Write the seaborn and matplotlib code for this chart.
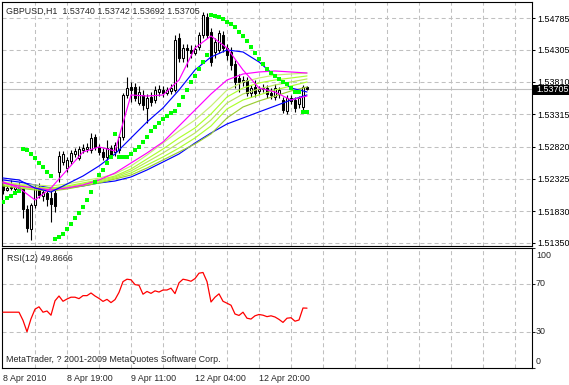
import numpy as np
import pandas as pd
import matplotlib
matplotlib.use("Agg")
import matplotlib.pyplot as plt
import matplotlib.patches as mpatches
import matplotlib.transforms as mtrans
import seaborn as sns

# ---------------- data ----------------
symbol = "GBPUSD,H1"
opens = [1.52233, 1.52157, 1.52187, 1.52172, 1.52218, 1.52172, 1.51866, 1.51560, 1.51927, 1.52202,
         1.52065, 1.52111, 1.52034, 1.52111, 1.52432, 1.52585, 1.52493, 1.52600, 1.52708, 1.52646,
         1.52769, 1.52784, 1.52769, 1.52968, 1.52815, 1.52738, 1.52662, 1.52799, 1.52738, 1.52769,
         1.52968, 1.53611, 1.53733, 1.53733, 1.53488, 1.53611, 1.53412, 1.53580, 1.53534, 1.53657,
         1.53687, 1.53641, 1.53672, 1.53687, 1.54483, 1.54177, 1.54330, 1.54300, 1.54254, 1.54346,
         1.54529, 1.54805, 1.54575, 1.54269, 1.54300, 1.54529, 1.54330, 1.54269, 1.54085, 1.53871,
         1.53810, 1.53840, 1.53641, 1.53733, 1.53672, 1.53703, 1.53718, 1.53641, 1.53580, 1.53626,
         1.53534, 1.53366, 1.53564, 1.53534, 1.53473, 1.53427, 1.53740]
highs = [1.52294, 1.52264, 1.52310, 1.52248, 1.52279, 1.52218, 1.51927, 1.51958, 1.52248, 1.52264,
         1.52187, 1.52157, 1.52157, 1.52157, 1.52754, 1.52754, 1.52662, 1.52769, 1.52799, 1.52830,
         1.52861, 1.52876, 1.53029, 1.53014, 1.52861, 1.52799, 1.52922, 1.52845, 1.52891, 1.53014,
         1.53641, 1.53886, 1.53810, 1.53795, 1.53749, 1.53687, 1.53626, 1.53657, 1.53749, 1.53764,
         1.53749, 1.53733, 1.53779, 1.54529, 1.54560, 1.54391, 1.54391, 1.54376, 1.54376, 1.54575,
         1.54881, 1.54866, 1.54636, 1.54483, 1.54606, 1.54590, 1.54391, 1.54346, 1.54147, 1.53932,
         1.53902, 1.53886, 1.53764, 1.53840, 1.53749, 1.53779, 1.53764, 1.53718, 1.53779, 1.53733,
         1.53580, 1.53611, 1.53611, 1.53580, 1.53595, 1.53764, 1.53742]
lows = [1.52095, 1.52141, 1.52157, 1.52126, 1.52141, 1.51728, 1.51514, 1.51391, 1.51881, 1.52034,
        1.51988, 1.51912, 1.51667, 1.51820, 1.52279, 1.52539, 1.52432, 1.52555, 1.52662, 1.52616,
        1.52723, 1.52738, 1.52723, 1.52769, 1.52692, 1.52616, 1.52616, 1.52646, 1.52677, 1.52723,
        1.52922, 1.53564, 1.53504, 1.53519, 1.53458, 1.53381, 1.53182, 1.53442, 1.53488, 1.53595,
        1.53580, 1.53611, 1.53626, 1.53657, 1.54116, 1.54116, 1.54039, 1.54177, 1.54223, 1.54300,
        1.54483, 1.54483, 1.54055, 1.54177, 1.54254, 1.54269, 1.54147, 1.53994, 1.53718, 1.53657,
        1.53749, 1.53595, 1.53580, 1.53580, 1.53626, 1.53657, 1.53564, 1.53549, 1.53534, 1.53564,
        1.53335, 1.53320, 1.53473, 1.53351, 1.53412, 1.53381, 1.53692]
closes = [1.52157, 1.52187, 1.52202, 1.52218, 1.52172, 1.51866, 1.51575, 1.51927, 1.52187, 1.52080,
          1.52126, 1.52019, 1.51942, 1.51912, 1.52677, 1.52708, 1.52616, 1.52723, 1.52754, 1.52784,
          1.52799, 1.52815, 1.52953, 1.52815, 1.52738, 1.52662, 1.52799, 1.52692, 1.52845, 1.52968,
          1.53611, 1.53718, 1.53687, 1.53564, 1.53657, 1.53458, 1.53564, 1.53504, 1.53687, 1.53703,
          1.53641, 1.53687, 1.53718, 1.54453, 1.54177, 1.54330, 1.54300, 1.54254, 1.54315, 1.54529,
          1.54835, 1.54529, 1.54116, 1.54422, 1.54560, 1.54330, 1.54223, 1.54070, 1.53810, 1.53810,
          1.53840, 1.53641, 1.53718, 1.53641, 1.53703, 1.53718, 1.53626, 1.53611, 1.53718, 1.53687,
          1.53381, 1.53564, 1.53519, 1.53412, 1.53564, 1.53733, 1.53705]

sar = [1.51973, 1.52034, 1.52065, 1.52111, 1.52141, 1.52784, 1.52769, 1.52708, 1.52646, 1.52570,
       1.52509, 1.52432, 1.52371, 1.51407, 1.51437, 1.51483, 1.51560, 1.51636, 1.51728, 1.51805,
       1.51896, 1.52004, 1.52126, 1.52279, 1.52386, 1.52463, 1.52570, 1.52662, 1.53014, 1.52662,
       1.52662, 1.52662, 1.52708, 1.52769, 1.52815, 1.52891, 1.52968, 1.53060, 1.53121, 1.53182,
       1.53243, 1.53289, 1.53335, 1.53366, 1.53458, 1.53580, 1.53687, 1.53810, 1.53902, 1.54009,
       1.54116, 1.54223, 1.54835, 1.54820, 1.54805, 1.54774, 1.54728, 1.54698, 1.54652, 1.54575,
       1.54514, 1.54437, 1.54346, 1.54254, 1.54162, 1.54085, 1.54009, 1.53947, 1.53902, 1.53856,
       1.53810, 1.53779, 1.53718, 1.53657, 1.53657, 1.53351, 1.53351]

rsi = [46.5, 46.5, 46.5, 46.5, 46.5, 39.7, 30.2, 41.0, 49.0, 51.0,
       46.5, 47.5, 44.0, 56.0, 60.0, 55.6, 57.5, 59.0, 59.0, 57.8,
       60.3, 60.3, 62.5, 60.0, 58.0, 55.5, 57.2, 54.5, 57.0, 63.0,
       72.0, 74.0, 73.5, 69.5, 68.9, 61.5, 63.8, 62.2, 64.3, 63.3,
       65.0, 65.0, 66.5, 62.0, 71.0, 74.0, 73.3, 72.3, 74.5, 79.0,
       79.6, 72.0, 55.0, 59.0, 61.8, 55.6, 54.0, 52.3, 45.0, 43.8,
       46.5, 41.5, 40.8, 43.5, 44.6, 44.0, 42.8, 43.5, 42.5, 40.5,
       38.0, 41.5, 41.9, 39.0, 40.0, 50.0, 49.8666]

ma_bars = [0, 4, 8, 12, 16, 20, 24, 28, 32, 36, 40, 44, 48, 52, 56, 60, 64, 68, 72, 76]
ma_fast_magenta = [1.52279, 1.52187, 1.52004, 1.52187, 1.52463, 1.52738, 1.52815, 1.52754, 1.53611, 1.53595,
                   1.53611, 1.53840, 1.54330, 1.54514, 1.54330, 1.53994, 1.53718, 1.53657, 1.53534, 1.53595]
ma_mid_blue = [1.52340, 1.52310, 1.52187, 1.52126, 1.52248, 1.52371, 1.52524, 1.52708, 1.52953, 1.53198,
               1.53412, 1.53687, 1.53994, 1.54192, 1.54300, 1.54269, 1.54116, 1.53902, 1.53718, 1.53657]
ma_slow_magenta = [1.52264, 1.52218, 1.52187, 1.52157, 1.52187, 1.52233, 1.52310, 1.52417, 1.52570, 1.52723,
                   1.52891, 1.53136, 1.53381, 1.53626, 1.53840, 1.53932, 1.53963, 1.53978, 1.53963, 1.53947]
ma_slow_blue = [1.52310, 1.52279, 1.52233, 1.52187, 1.52187, 1.52218, 1.52264, 1.52294, 1.52356, 1.52463,
                1.52585, 1.52708, 1.52876, 1.53029, 1.53167, 1.53259, 1.53351, 1.53442, 1.53534, 1.53611]
ma_green_1 = [1.52279, 1.52248, 1.52233, 1.52218, 1.52248, 1.52294, 1.52340, 1.52402, 1.52524, 1.52692,
              1.52876, 1.53060, 1.53228, 1.53442, 1.53687, 1.53810, 1.53871, 1.53917, 1.53932, 1.53947]
ma_green_2 = [1.52264, 1.52233, 1.52202, 1.52187, 1.52218, 1.52264, 1.52310, 1.52371, 1.52478, 1.52631,
              1.52784, 1.52953, 1.53106, 1.53320, 1.53580, 1.53718, 1.53795, 1.53840, 1.53871, 1.53902]
ma_green_3 = [1.52248, 1.52218, 1.52187, 1.52172, 1.52202, 1.52248, 1.52294, 1.52356, 1.52448, 1.52585,
              1.52723, 1.52876, 1.53029, 1.53228, 1.53488, 1.53626, 1.53703, 1.53764, 1.53810, 1.53856]
ma_green_4 = [1.52233, 1.52202, 1.52172, 1.52157, 1.52187, 1.52233, 1.52279, 1.52340, 1.52417, 1.52539,
              1.52662, 1.52799, 1.52953, 1.53136, 1.53397, 1.53534, 1.53611, 1.53687, 1.53749, 1.53810]
ma_green_5 = [1.52218, 1.52187, 1.52157, 1.52141, 1.52172, 1.52218, 1.52264, 1.52325, 1.52386, 1.52493,
              1.52616, 1.52738, 1.52861, 1.53014, 1.53259, 1.53427, 1.53519, 1.53595, 1.53672, 1.53733]

price_ticks = [1.54785, 1.54305, 1.53810, 1.53315, 1.52820, 1.52325, 1.51830, 1.51350]
rsi_ticks = [100, 70, 30, 0]
time_tick_bars = [0, 16, 32, 48, 64]
time_labels = ["8 Apr 2010", "8 Apr 19:00", "9 Apr 11:00", "12 Apr 04:00", "12 Apr 20:00"]
rsi_name = "RSI(12)"
copyright_text = "MetaTrader, ? 2001-2009 MetaQuotes Software Corp."

# ---------------- style ----------------
sns.set_style("white")
plt.rcParams["font.family"] = ["Liberation Sans", "DejaVu Sans"]
plt.rcParams["lines.scale_dashes"] = False
FS = 6.4

W, H = 569, 385
fig = plt.figure(figsize=(W / 100, H / 100), dpi=100)
fig.patch.set_facecolor("white")

def fx(x):
    return x / W

def fy(y):
    return 1 - y / H

# axes placement (pixels)
ax = fig.add_axes([fx(2), fy(245.5), fx(530), (245.5 - 2) / H])
axr = fig.add_axes([fx(2), fy(368), fx(530), (368 - 248) / H])

n = len(closes)
bars = np.arange(n)
XMIN, XMAX = -0.25, 132.25
grid_kw = dict(color="#c0c0c0", lw=0.75, ls=(0, (2.9, 2.2)), zorder=0)
vgrid = np.arange(8, 132, 8)

for a in (ax, axr):
    a.set_xlim(XMIN, XMAX)
    a.set_facecolor("white")
    for s in a.spines.values():
        s.set_color("black")
        s.set_linewidth(0.8)
    for xv in vgrid:
        a.axvline(xv, **grid_kw)

ax.set_ylim(1.51307, 1.55034)
for p in price_ticks:
    ax.axhline(p, **grid_kw)
# current price line
ax.axhline(closes[-1], color="#c0c0c0", lw=0.8, zorder=1)

# candles
df = pd.DataFrame({"bar": bars, "open": opens, "high": highs, "low": lows, "close": closes})
ax.vlines(df["bar"], df["low"], df["high"], color="black", lw=0.8, zorder=2)
bottoms = np.minimum(df["open"], df["close"])
heights = np.maximum(np.abs(df["close"] - df["open"]), 0.00002)
faces = ["white" if c >= o else "black" for o, c in zip(opens, closes)]
ax.bar(df["bar"], heights, bottom=bottoms, width=0.55, color=faces,
       edgecolor="black", linewidth=0.75, zorder=3)

# moving averages
ma_lines = [
    (ma_slow_blue, "#0000ff"),
    (ma_green_5, "#9acd32"),
    (ma_green_4, "#adff2f"),
    (ma_green_3, "#b8e65a"),
    (ma_green_2, "#adff2f"),
    (ma_green_1, "#c6f070"),
    (ma_slow_magenta, "#ff00ff"),
    (ma_mid_blue, "#0000ff"),
    (ma_fast_magenta, "#ff00ff"),
]
for vals, col in ma_lines:
    sns.lineplot(x=ma_bars, y=vals, ax=ax, color=col, linewidth=0.85, zorder=4, legend=False)

# parabolic SAR
sns.scatterplot(x=bars, y=sar, ax=ax, color="#00ff00", marker="s", s=6, linewidth=0, zorder=5, legend=False)

ax.set_xticks([])
ax.yaxis.tick_right()
ax.set_yticks(price_ticks)
ax.set_yticklabels([f"{p:.5f}" for p in price_ticks])
ax.tick_params(axis="y", labelsize=FS, pad=1.2, length=2.5, width=0.75, direction="out", colors="black")
ax.set_xlabel("")
ax.set_ylabel("")

# RSI panel
axr.set_ylim(0, 100)
for lv in (70, 30):
    axr.axhline(lv, **grid_kw)
sns.lineplot(x=bars, y=rsi, ax=axr, color="#ff0000", linewidth=0.9, zorder=3, legend=False)
axr.set_yticks(rsi_ticks)
axr.yaxis.tick_right()
axr.set_yticklabels([])
axr.tick_params(axis="y", length=2.5, width=0.75, direction="out")
axr.set_xticks(list(time_tick_bars) + [80])
axr.set_xticklabels([])
axr.tick_params(axis="x", length=2.5, width=0.75, direction="out")
axr.set_xlabel("")
axr.set_ylabel("")

# RSI scale labels
rsi_label_y = {100: 255, 70: 283.5, 30: 331.5, 0: 361.5}
for v in rsi_ticks:
    fig.text(fx(536), fy(rsi_label_y[v]), str(v), fontsize=FS, va="center", ha="left")

# time labels
tr = mtrans.blended_transform_factory(axr.transData, fig.transFigure)
for b, lab in zip(time_tick_bars, time_labels):
    axr.text(b, fy(381), lab, transform=tr, fontsize=FS, va="baseline", ha="left", clip_on=False)

# texts
title = f"{symbol}  {opens[-1]:.5f} {highs[-1]:.5f} {lows[-1]:.5f} {closes[-1]:.5f}"
fig.text(fx(6), fy(14), title, fontsize=FS, va="baseline", ha="left")
fig.text(fx(7), fy(261), f"{rsi_name} {rsi[-1]:.4f}", fontsize=FS, va="baseline", ha="left")
fig.text(fx(6), fy(362), copyright_text, fontsize=FS, va="baseline", ha="left")

# current price box
rect = mpatches.Rectangle((fx(533), fy(94.5)), fx(36), 9.5 / H, transform=fig.transFigure,
                          facecolor="black", edgecolor="none", zorder=10)
fig.add_artist(rect)
fig.text(fx(536.5), fy(89.8), f"{closes[-1]:.5f}", fontsize=FS, color="white", va="center", ha="left", zorder=11)

fig.savefig("out.png", dpi=100, facecolor="white")
